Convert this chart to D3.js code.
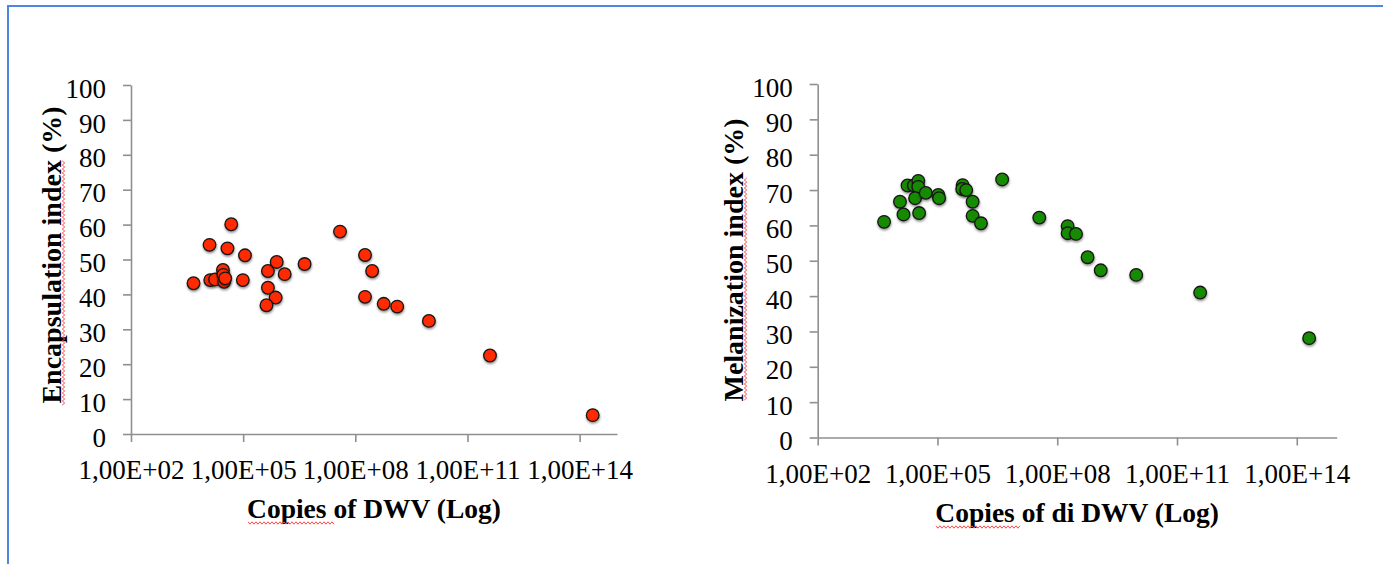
<!DOCTYPE html>
<html>
<head>
<meta charset="utf-8">
<script src="https://cdn.jsdelivr.net/npm/d3@7"></script>
<style>
  body { margin: 0; background: #fff; }
  text { font-family: "Liberation Serif", "Times New Roman", serif; fill: #000; }
</style>
</head>
<body>
<div id="chart"></div>
<script>
// values
const xTicks = [1e2, 1e5, 1e8, 1e11, 1e14];
const xTickLabels = ["1,00E+02", "1,00E+05", "1,00E+08", "1,00E+11", "1,00E+14"];
const yTicks = [0, 10, 20, 30, 40, 50, 60, 70, 80, 90, 100];

const encapCopies = [4.7e3, 1.26e4, 4.8e4, 3.8e4, 1.12e5, 1.32e4, 1.78e4, 2.88e4, 2.95e4, 3.09e4,
    3.31e4, 9.8e4, 4.6e5, 7.9e5, 1.29e6, 4.6e5, 7.4e5, 4.2e5, 4.4e6, 3.9e7,
    1.82e8, 2.82e8, 1.82e8, 5.75e8, 1.32e9, 9.3e9, 4.0e11, 2.24e14];
const encapIndex = [43.2, 54.2, 60.1, 53.2, 51.2, 44.1, 44.3, 47.0, 45.6, 43.6,
    44.6, 44.1, 46.7, 49.3, 45.8, 41.9, 39.1, 36.9, 48.7, 58.0,
    51.3, 46.7, 39.3, 37.3, 36.5, 32.4, 22.5, 5.4];

const melanCopies = [4.6e3, 1.15e4, 1.41e4, 1.78e4, 2.57e4, 3.31e4, 3.31e4, 2.75e4, 3.47e4, 5.1e4,
    1.05e5, 1.10e5, 4.27e5, 4.17e5, 5.25e5, 7.6e5, 7.6e5, 1.23e6, 4.17e6, 3.55e7,
    1.82e8, 1.82e8, 2.95e8, 5.75e8, 1.23e9, 9.5e9, 3.8e11, 2.04e14];
const melanIndex = [61.0, 66.7, 63.1, 71.3, 71.3, 72.6, 70.9, 67.7, 63.5, 69.2,
    68.6, 67.7, 71.4, 70.3, 70.0, 66.7, 62.7, 60.6, 73.0, 62.2,
    59.8, 57.8, 57.6, 51.0, 47.3, 46.0, 41.0, 28.1];

const width = 1383, height = 564;
const axisColor = "#8f8f8f";
const squiggleColor = "#ff4a4a";

const svg = d3.select("#chart")
    .append("svg")
    .attr("width", width)
    .attr("height", height);

svg.append("rect").attr("width", width).attr("height", height).attr("fill", "#fff");

// blue frame of the screenshot
svg.append("rect")
    .attr("x", 8).attr("y", 6)
    .attr("width", 1420).attr("height", 620)
    .attr("fill", "none")
    .attr("stroke", "#4f86e0")
    .attr("stroke-width", 2);

const defs = svg.append("defs");
defs.append("filter")
    .attr("id", "shadow")
    .attr("x", "-50%").attr("y", "-50%")
    .attr("width", "200%").attr("height", "200%")
    .append("feDropShadow")
    .attr("dx", 0.4).attr("dy", 1.6)
    .attr("stdDeviation", 1.3)
    .attr("flood-color", "#000")
    .attr("flood-opacity", 0.45);

// spell-check wave, drawn horizontally from 0 to len
function squiggle(g, len) {
    const pts = [];
    for (let i = 0; i <= len; i += 2) pts.push([i, (i / 2) % 2 === 0 ? -1.2 : 1.2]);
    g.append("path")
        .attr("d", d3.line()(pts))
        .attr("fill", "none")
        .attr("stroke", squiggleColor)
        .attr("stroke-width", 1);
}

function drawPanel(p) {
    const x = d3.scaleLog().domain([1e2, 1e15]).range([p.left, p.right]);
    const y = d3.scaleLinear().domain([0, 100]).range([p.bottom, p.top]);

    const g = svg.append("g");

    const yAxis = g.append("g")
        .attr("transform", "translate(" + p.left + ",0)")
        .call(d3.axisLeft(y).tickValues(yTicks).tickSize(8).tickSizeOuter(0).tickPadding(17));

    const xAxis = g.append("g")
        .attr("transform", "translate(0," + p.bottom + ")")
        .call(d3.axisBottom(x).tickValues(xTicks)
            .tickFormat((d, i) => xTickLabels[i])
            .tickSize(8).tickSizeOuter(0).tickPadding(18));

    [yAxis, xAxis].forEach(a => {
        a.select(".domain").attr("stroke", axisColor).attr("stroke-width", 1.6);
        a.selectAll(".tick line").attr("stroke", axisColor).attr("stroke-width", 1.6);
        a.selectAll(".tick text")
            .attr("fill", "#000")
            .style("font-family", "'Liberation Serif', serif")
            .style("font-size", "27px");
    });
    yAxis.selectAll(".tick text").attr("dy", "0.45em");

    g.append("g")
        .selectAll("circle")
        .data(p.xs.map((c, i) => [c, p.ys[i]]))
        .enter()
        .append("circle")
        .attr("cx", d => x(d[0]))
        .attr("cy", d => y(d[1]))
        .attr("r", 6.3)
        .attr("fill", p.fill)
        .attr("stroke", "#151515")
        .attr("stroke-width", 1.3)
        .attr("filter", "url(#shadow)");

    // y title
    g.append("text")
        .attr("transform", "translate(" + p.yTitleX + "," + p.yTitleY + ") rotate(-90)")
        .attr("text-anchor", "middle")
        .style("font-size", "28px")
        .style("font-weight", "bold")
        .text(p.yTitle);

    const ys = g.append("g")
        .attr("transform", "translate(" + (p.yTitleX + 2.5) + "," + p.ySqFrom + ") rotate(-90)");
    squiggle(ys, p.ySqFrom - p.ySqTo);

    // x title
    g.append("text")
        .attr("x", (p.left + p.right) / 2)
        .attr("y", p.xTitleY)
        .attr("text-anchor", "middle")
        .style("font-size", "27.5px")
        .style("font-weight", "bold")
        .text(p.xTitle);

    const xs = g.append("g")
        .attr("transform", "translate(" + p.xSqFrom + "," + (p.xTitleY + 5) + ")");
    squiggle(xs, p.xSqTo - p.xSqFrom);
}

drawPanel({
    left: 131, right: 617, top: 85, bottom: 434,
    xs: encapCopies, ys: encapIndex, fill: "#ff2a00",
    yTitle: "Encapsulation index (%)", yTitleX: 61, yTitleY: 255,
    ySqFrom: 405, ySqTo: 160,
    xTitle: "Copies of DWV (Log)", xTitleY: 518,
    xSqFrom: 248, xSqTo: 334
});

drawPanel({
    left: 817.7, right: 1336.7, top: 84, bottom: 437.5,
    xs: melanCopies, ys: melanIndex, fill: "#168a04",
    yTitle: "Melanization index (%)", yTitleX: 743, yTitleY: 260,
    ySqFrom: 400, ySqTo: 177,
    xTitle: "Copies of di DWV (Log)", xTitleY: 522,
    xSqFrom: 936, xSqTo: 1021
});
</script>
</body>
</html>
